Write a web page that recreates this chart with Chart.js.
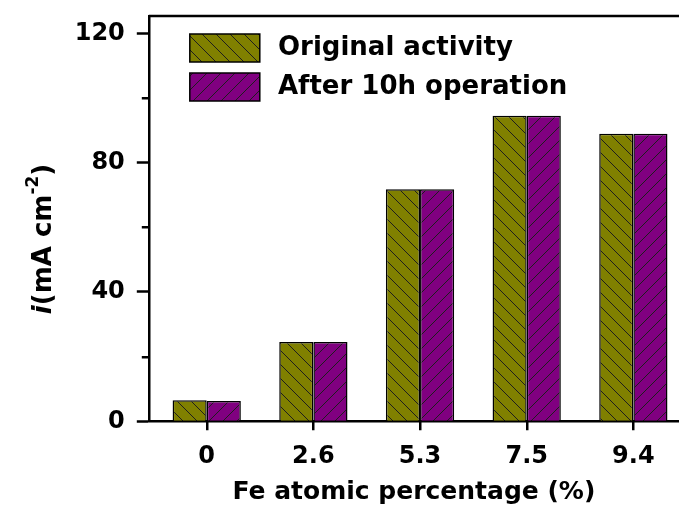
<!DOCTYPE html>
<html>
<head>
<meta charset="utf-8">
<script src="https://cdn.jsdelivr.net/npm/chart.js@4/dist/chart.umd.min.js"></script>
<style>
  html, body { margin: 0; padding: 0; background: #ffffff; }
  #wrap { width: 679px; height: 508px; }
</style>
</head>
<body>
<div id="wrap"><canvas id="c" width="679" height="508"></canvas></div>
<script>
// ---- data ----
const categories = ['0', '2.6', '5.3', '7.5', '9.4'];
const originalActivity = [6.5, 24.5, 71.8, 94.5, 88.9];
const after10h = [6.3, 24.5, 71.8, 94.5, 88.9];
const seriesLabels = ['Original activity', 'After 10h operation'];
const yMajorTicks = [0, 40, 80, 120];
const yMinorTicks = [20, 60, 100];
const xAxisTitle = 'Fe atomic percentage (%)';

const FONT = 'DejaVu Sans';
Chart.defaults.font.family = FONT;
Chart.defaults.color = '#000';

const canvas = document.getElementById('c');
const ctx = canvas.getContext('2d');

function makeHatch(color, dir) {
  const s = 14;
  const c = document.createElement('canvas');
  c.width = s; c.height = s;
  const g = c.getContext('2d');
  g.fillStyle = color;
  g.fillRect(0, 0, s, s);
  g.strokeStyle = '#1e1e1e';
  g.lineWidth = 1;
  g.beginPath();
  if (dir === 'back') {
    g.moveTo(-1, -1); g.lineTo(s + 1, s + 1);
    g.moveTo(-1, s - 1); g.lineTo(1, s + 1);
    g.moveTo(s - 1, -1); g.lineTo(s + 1, 1);
  } else {
    g.moveTo(-1, s + 1); g.lineTo(s + 1, -1);
    g.moveTo(-1, 1); g.lineTo(1, -1);
    g.moveTo(s - 1, s + 1); g.lineTo(s + 1, s - 1);
  }
  g.stroke();
  return ctx.createPattern(c, 'repeat');
}

const olive = makeHatch('#808000', 'back');
const purple = makeHatch('#800080', 'fwd');

const AXW = 2.5;

const framePlugin = {
  id: 'frame',
  afterLayout(chart) {
    // place legend inside plot area like the original
    if (chart.legend) {
      chart.legend.left = chart.chartArea.left + 30;
      chart.legend.top = 23;
    }
  },
  afterDraw(chart) {
    const {ctx, chartArea} = chart;
    const y = chart.scales.y;
    const x = chart.scales.x;
    ctx.save();
    ctx.strokeStyle = '#000';
    ctx.lineWidth = AXW;
    // top border
    ctx.beginPath();
    ctx.moveTo(chartArea.left, chartArea.top);
    ctx.lineTo(chartArea.right, chartArea.top);
    ctx.stroke();
    // minor y ticks
    ctx.beginPath();
    yMinorTicks.forEach(v => {
      const py = Math.round(y.getPixelForValue(v)) + 0.25;
      ctx.moveTo(chartArea.left - 7, py);
      ctx.lineTo(chartArea.left, py);
    });
    // x tick marks at category centres
    categories.forEach((c, i) => {
      const px = Math.round(x.getPixelForValue(i)) + 0.25;
      ctx.moveTo(px, chartArea.bottom);
      ctx.lineTo(px, chartArea.bottom + 9);
    });
    ctx.stroke();
    // y axis title with italic i and superscript
    const parts = [
      {t: 'i', f: 'italic bold 26px "' + FONT + '"', dy: 0},
      {t: '(mA cm', f: 'bold 26px "' + FONT + '"', dy: 0},
      {t: '-2', f: 'bold 17px "' + FONT + '"', dy: -10},
      {t: ')', f: 'bold 26px "' + FONT + '"', dy: 0}
    ];
    let total = 0;
    parts.forEach(p => { ctx.font = p.f; p.w = ctx.measureText(p.t).width; total += p.w; });
    ctx.translate(44, 239);
    ctx.rotate(-Math.PI / 2);
    ctx.fillStyle = '#000';
    ctx.textBaseline = 'middle';
    ctx.textAlign = 'left';
    let tx = -total / 2;
    parts.forEach(p => { ctx.font = p.f; ctx.fillText(p.t, tx, p.dy); tx += p.w; });
    ctx.restore();
  }
};

new Chart(canvas, {
  type: 'bar',
  data: {
    datasets: [
      {
        label: seriesLabels[0],
        data: originalActivity.map((v, i) => ({x: i, y: v})),
        backgroundColor: olive,
        borderColor: '#000',
        borderWidth: 1.5,
        categoryPercentage: 0.64,
        barPercentage: 1.0
      },
      {
        label: seriesLabels[1],
        data: after10h.map((v, i) => ({x: i, y: v})),
        backgroundColor: purple,
        borderColor: '#000',
        borderWidth: 1.5,
        categoryPercentage: 0.64,
        barPercentage: 1.0
      }
    ]
  },
  options: {
    responsive: false,
    animation: false,
    events: [],
    layout: { padding: { top: 16, left: 0, right: 0, bottom: 0 } },
    plugins: {
      legend: {
        position: 'chartArea',
        align: 'start',
        labels: {
          boxWidth: 70,
          boxHeight: 28,
          padding: 11,
          color: '#000',
          font: { family: FONT, size: 26, weight: 'bold' },
          generateLabels(chart) {
            const items = Chart.defaults.plugins.legend.labels.generateLabels(chart);
            items.forEach(it => { it.text = '\u2009' + it.text; });
            return items;
          }
        }
      },
      tooltip: { enabled: false }
    },
    scales: {
      x: {
        type: 'linear',
        offset: false,
        min: -0.543,
        max: 4.428,
        afterFit(scale) { scale.height = 86.7; scale.paddingLeft = 0; scale.paddingRight = 0; },
        border: { display: true, color: '#000', width: AXW },
        grid: { display: true, offset: false, drawOnChartArea: false, drawTicks: true, tickLength: 9, tickColor: 'rgba(0,0,0,0)', tickWidth: AXW },
        ticks: {
          stepSize: 1,
          includeBounds: false,
          autoSkip: false,
          maxRotation: 0,
          padding: 12,
          color: '#000',
          font: { family: FONT, size: 24, weight: 'bold' },
          callback: (v) => (Number.isInteger(v) && categories[v] !== undefined) ? categories[v] : ''
        },
        title: {
          display: true,
          text: xAxisTitle,
          color: '#000',
          font: { family: FONT, size: 25, weight: 'bold' },
          padding: { top: 0, bottom: 1 }
        }
      },
      y: {
        min: 0,
        max: 125.35,
        afterFit(scale) { scale.width = 148.8; scale.paddingTop = 0; scale.paddingBottom = 0; },
        afterBuildTicks(scale) { scale.ticks = yMajorTicks.map(v => ({value: v})); },
        border: { display: true, color: '#000', width: AXW },
        grid: { display: true, drawOnChartArea: false, drawTicks: true, tickLength: 12, tickColor: '#000', tickWidth: AXW },
        ticks: {
          padding: 12,
          color: '#000',
          font: { family: FONT, size: 24, weight: 'bold' }
        }
      }
    }
  },
  plugins: [framePlugin]
});
</script>
</body>
</html>
